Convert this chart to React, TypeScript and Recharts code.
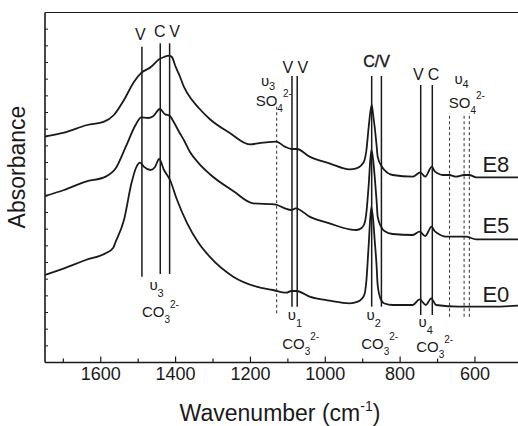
import React from 'react';
import { LineChart, Line, XAxis, YAxis, ReferenceLine, ReferenceDot } from 'recharts';

// ---- spectra (wavenumber in cm-1, absorbance offset units) ----
const WN_E8 = [1749, 1698, 1636, 1591, 1565, 1538, 1511, 1491, 1467, 1444, 1431, 1417, 1410, 1400, 1389, 1378, 1356, 1338, 1309, 1255, 1202, 1166, 1131, 1108, 1090, 1076, 1042, 989, 935, 917, 903, 895, 890, 884, 876, 872, 868, 863, 860, 850, 842, 820, 766, 746, 733, 715, 708, 700, 686, 668, 651, 629, 615, 597, 485];
const ABS_E8 = [13.56, 13.79, 14.25, 14.45, 14.85, 15.75, 16.85, 17.39, 17.71, 18.19, 18.33, 18.41, 18.33, 17.75, 17.19, 16.55, 15.75, 15.27, 14.61, 13.77, 13.09, 13.19, 13.25, 12.95, 12.81, 12.81, 12.35, 11.95, 11.59, 11.65, 11.85, 12.15, 12.75, 14.13, 15.45, 14.85, 14.13, 13.05, 12.35, 11.79, 11.55, 11.25, 11.15, 11.41, 11.15, 11.75, 11.49, 11.35, 11.25, 11.25, 11.15, 11.25, 11.25, 11.11, 11.11];

const WN_E5 = [1749, 1698, 1640, 1587, 1560, 1533, 1507, 1492, 1474, 1461, 1442, 1429, 1415, 1405, 1389, 1378, 1362, 1338, 1309, 1246, 1193, 1135, 1108, 1091, 1079, 1042, 989, 935, 917, 903, 895, 890, 884, 877, 872, 868, 863, 860, 851, 842, 820, 766, 748, 733, 716, 708, 700, 678, 624, 597, 485];
const ABS_E5 = [9.99, 10.35, 10.85, 11.15, 11.65, 12.95, 14.25, 14.71, 14.67, 14.76, 15.21, 14.91, 14.79, 14.43, 13.77, 13.35, 12.65, 11.95, 11.31, 10.29, 9.55, 9.49, 9.25, 9.15, 9.25, 8.75, 8.35, 7.99, 7.95, 8.07, 8.35, 9.03, 10.65, 12.75, 12.15, 11.15, 9.75, 8.75, 8.15, 7.89, 7.71, 7.65, 7.85, 7.59, 8.15, 7.89, 7.75, 7.55, 7.55, 7.39, 7.39];

const WN_E0 = [1749, 1698, 1640, 1587, 1567, 1560, 1538, 1518, 1506, 1495, 1485, 1467, 1455, 1444, 1431, 1415, 1396, 1369, 1338, 1309, 1246, 1184, 1140, 1104, 1091, 1077, 1042, 989, 935, 913, 903, 895, 890, 884, 877, 872, 868, 863, 860, 851, 842, 820, 766, 748, 731, 717, 704, 642, 553, 485];
const ABS_E0 = [5.25, 5.65, 6.15, 6.55, 6.87, 7.25, 8.55, 10.75, 11.67, 11.99, 11.75, 11.55, 11.73, 12.21, 11.55, 10.95, 9.75, 8.35, 7.15, 6.35, 5.15, 4.55, 4.35, 4.19, 4.29, 4.29, 3.95, 3.71, 3.55, 3.65, 3.81, 4.11, 4.95, 7.05, 9.33, 8.55, 7.35, 5.85, 4.65, 3.75, 3.54, 3.45, 3.45, 3.79, 3.45, 3.85, 3.45, 3.35, 3.35, 3.41];

// ---- axes ----
const X_DOMAIN = [485, 1749];
const X_TICKS = [1700, 1600, 1500, 1400, 1300, 1200, 1100, 1000, 900, 800, 700, 600];
const X_TICK_LABELS = [1600, 1400, 1200, 1000, 800, 600];
const Y_DOMAIN = [0, 21];
const Y_TICKS = [1, 2, 3, 4, 5, 6, 7, 8, 9, 10, 11, 12, 13, 14, 15, 16, 17, 18, 19, 20];

// ---- band markers (wavenumber, segment top, segment bottom) ----
const CARBONATE_LINES = [
  { w: 1490, top: 18.95, bottom: 5.15 },
  { w: 1441, top: 19.15, bottom: 5.31 },
  { w: 1416, top: 19.15, bottom: 5.31 },
  { w: 1089, top: 17.19, bottom: 3.35 },
  { w: 1075, top: 17.19, bottom: 3.35 },
  { w: 876, top: 17.19, bottom: 3.35 },
  { w: 850, top: 17.19, bottom: 3.35 },
  { w: 745, top: 16.65, bottom: 2.85 },
  { w: 714, top: 16.65, bottom: 2.85 },
];
const SULFATE_LINES = [
  { w: 1130, top: 15.35, bottom: 2.95 },
  { w: 668, top: 14.97, bottom: 2.75 },
  { w: 629, top: 14.97, bottom: 2.75 },
  { w: 615, top: 14.97, bottom: 2.75 },
];

const PHASE_LETTERS = [
  { w: 1494, v: 19.35, text: 'V' },
  { w: 1442, v: 19.51, text: 'C' },
  { w: 1403, v: 19.51, text: 'V' },
  { w: 1100, v: 17.35, text: 'V' },
  { w: 1060, v: 17.35, text: 'V' },
  { w: 863, v: 17.75, text: 'C/V' },
  { w: 751, v: 16.95, text: 'V' },
  { w: 711, v: 16.95, text: 'C' },
];

const MODE_LABELS = [
  { w: 1470, v: 4.35, sub: '3' },
  { w: 1100, v: 2.55, sub: '1' },
  { w: 890, v: 2.55, sub: '2' },
  { w: 751, v: 2.13, sub: '4' },
  { w: 1172, v: 16.62, sub: '3' },
  { w: 655, v: 16.71, sub: '4' },
];
const ION_LABELS = [
  { w: 1490, v: 2.75, ion: 'CO', sub: '3', sup: '2-' },
  { w: 1115, v: 0.81, ion: 'CO', sub: '3', sup: '2-' },
  { w: 904, v: 0.81, ion: 'CO', sub: '3', sup: '2-' },
  { w: 757, v: 0.65, ion: 'CO', sub: '3', sup: '2-' },
  { w: 1186, v: 15.41, ion: 'SO', sub: '4', sup: '2-' },
  { w: 670, v: 15.25, ion: 'SO', sub: '4', sup: '2-' },
];
const SERIES_LABELS = [
  { w: 580, v: 11.45, text: 'E8' },
  { w: 580, v: 7.75, text: 'E5' },
  { w: 580, v: 3.65, text: 'E0' },
];

const zip = (ws: number[], vs: number[]) => ws.map((w, i) => ({ w, v: vs[i] }));
const DATA_E8 = zip(WN_E8, ABS_E8);
const DATA_E5 = zip(WN_E5, ABS_E5);
const DATA_E0 = zip(WN_E0, ABS_E0);

const FONT = 'Liberation Sans, Arial, Helvetica, sans-serif';
const INK = '#1a1a1a';

const XTick = (p: any) => {
  const v = p.payload.value;
  const major = X_TICK_LABELS.includes(v);
  return (
    <g>
      <line x1={p.x} x2={p.x} y1={p.y} y2={p.y - (major ? 6 : 4)} stroke={INK} strokeWidth={1.2} />
      {major && (
        <text x={p.x} y={p.y + 17} textAnchor="middle" fontSize={18} fontFamily={FONT} fill={INK}>
          {v}
        </text>
      )}
    </g>
  );
};

const YTick = (p: any) => (
  <line x1={p.x} x2={p.x + 3} y1={p.y} y2={p.y} stroke={INK} strokeWidth={1} />
);

const XTitle = (p: any) => {
  const vb = p.viewBox;
  return (
    <text x={vb.x + vb.width / 2 - 1.5} y={vb.y + 58.5} textAnchor="middle" fontSize={23} fontFamily={FONT} fill={INK}>
      Wavenumber (cm<tspan fontSize={14} dy={-10}>-1</tspan><tspan dy={10}>)</tspan>
    </text>
  );
};

const YTitle = (p: any) => {
  const vb = p.viewBox;
  const x = vb.x + 25;
  const y = vb.y + 154.5;
  return (
    <text x={x} y={y} transform={`rotate(-90, ${x}, ${y})`} textAnchor="middle" fontSize={23} fontFamily={FONT} fill={INK}>
      Absorbance
    </text>
  );
};

export default function App() {
  return (
    <div style={{ position: 'absolute', left: 0, top: 0, width: 518, height: 426, background: '#fff' }}>
      <LineChart width={518} height={426} margin={{ top: 12.5, right: 0, bottom: 0, left: 0 }}>
        <XAxis
          type="number"
          dataKey="w"
          domain={X_DOMAIN}
          reversed
          allowDataOverflow
          ticks={X_TICKS}
          interval={0}
          height={63.5}
          tickSize={0}
          tickMargin={0}
          tickLine={false}
          axisLine={{ stroke: INK, strokeWidth: 1.6 }}
          tick={(p: any) => <XTick {...p} />}
          label={<XTitle />}
        />
        <YAxis
          type="number"
          domain={Y_DOMAIN}
          allowDataOverflow
          ticks={Y_TICKS}
          interval={0}
          width={45}
          tickSize={0}
          tickMargin={0}
          tickLine={false}
          axisLine={{ stroke: INK, strokeWidth: 1.6 }}
          tick={(p: any) => <YTick {...p} />}
          label={<YTitle />}
        />
        <ReferenceLine y={21} stroke={INK} strokeWidth={1.2} />

        {CARBONATE_LINES.map((l, i) => (
          <ReferenceLine key={'c' + i} segment={[{ x: l.w, y: l.bottom }, { x: l.w, y: l.top }]} stroke={INK} strokeWidth={1.5} />
        ))}
        {SULFATE_LINES.map((l, i) => (
          <ReferenceLine key={'s' + i} segment={[{ x: l.w, y: l.bottom }, { x: l.w, y: l.top }]} stroke="#444" strokeWidth={1.1} strokeDasharray="3 2.5" />
        ))}

        <Line data={DATA_E8} dataKey="v" type="monotone" stroke={INK} strokeWidth={1.8} dot={false} isAnimationActive={false} />
        <Line data={DATA_E5} dataKey="v" type="monotone" stroke={INK} strokeWidth={1.8} dot={false} isAnimationActive={false} />
        <Line data={DATA_E0} dataKey="v" type="monotone" stroke={INK} strokeWidth={1.8} dot={false} isAnimationActive={false} />

        {PHASE_LETTERS.map((l, i) => (
          <ReferenceDot
            key={'p' + i}
            x={l.w}
            y={l.v}
            r={0}
            shape={(p: any) => (
              <text x={p.cx} y={p.cy} textAnchor="middle" fontSize={16} fontFamily={FONT} fill={INK}
                stroke={l.text === 'C/V' ? INK : 'none'} strokeWidth={0.4}>
                {l.text}
              </text>
            )}
          />
        ))}
        {MODE_LABELS.map((l, i) => (
          <ReferenceDot
            key={'m' + i}
            x={l.w}
            y={l.v}
            r={0}
            shape={(p: any) => (
              <text x={p.cx} y={p.cy} fontSize={15} fontFamily={FONT} fill={INK}>
                {'υ'}<tspan fontSize={11} dy={l.v > 10 ? 4 : 7}>{l.sub}</tspan>
              </text>
            )}
          />
        ))}
        {ION_LABELS.map((l, i) => (
          <ReferenceDot
            key={'i' + i}
            x={l.w}
            y={l.v}
            r={0}
            shape={(p: any) => (
              <text x={p.cx} y={p.cy} fontSize={15} fontFamily={FONT} fill={INK}>
                {l.ion}<tspan fontSize={10} dy={6}>{l.sub}</tspan><tspan fontSize={10} dy={-15}>{l.sup}</tspan>
              </text>
            )}
          />
        ))}
        {SERIES_LABELS.map((l, i) => (
          <ReferenceDot
            key={'e' + i}
            x={l.w}
            y={l.v}
            r={0}
            shape={(p: any) => (
              <text x={p.cx} y={p.cy} fontSize={22} fontFamily={FONT} fill={INK}>
                {l.text}
              </text>
            )}
          />
        ))}
      </LineChart>
    </div>
  );
}
